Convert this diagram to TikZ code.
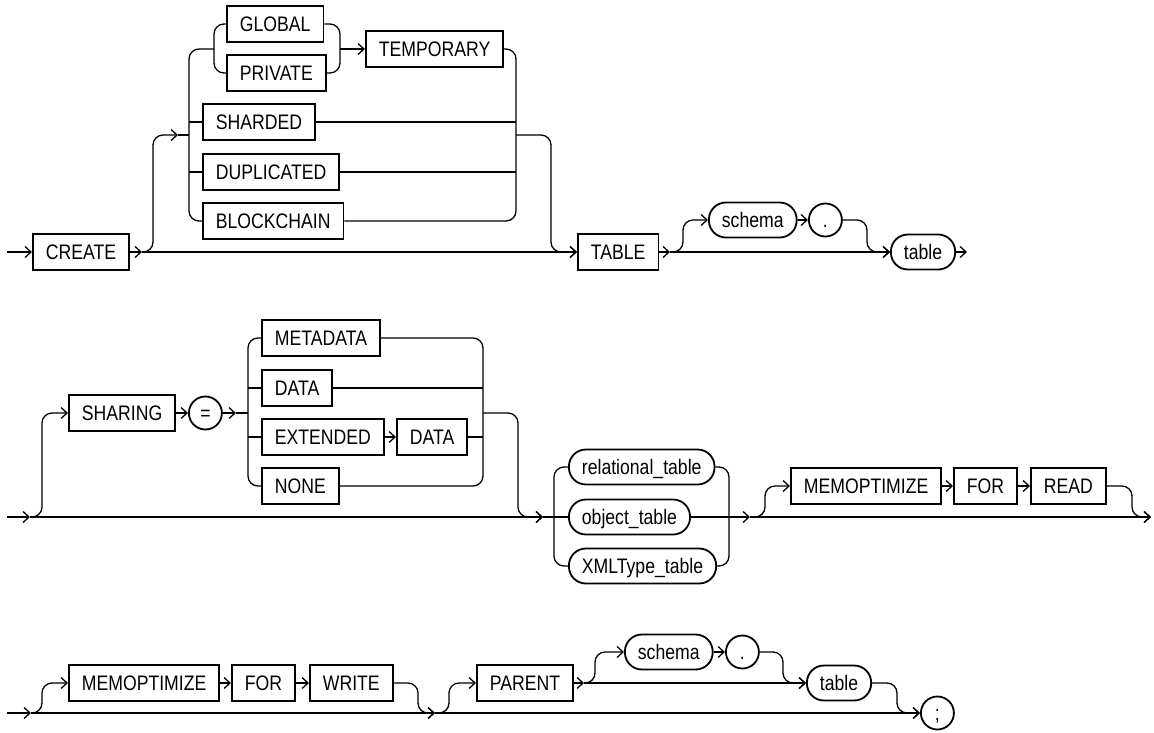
\documentclass[tikz,border=0pt]{standalone}
\usepackage{fontspec}
\setmainfont{Liberation Sans}[FakeStretch=0.84]
\usetikzlibrary{arrows.meta}
\begin{document}
\begin{tikzpicture}[x=1pt,y=-1pt,
  every node/.style={font=\fontsize{21}{25}\selectfont,text height=15pt,text depth=0pt},
  kw/.style={draw,line width=1.8pt,minimum height=36pt,inner xsep=13pt,anchor=west},
  nt/.style={draw,line width=1.8pt,rounded corners=17pt,minimum height=35pt,inner xsep=13pt,anchor=west},
  sym/.style={draw,line width=1.8pt,circle,minimum size=33pt,inner sep=0pt,anchor=west},
  rail/.style={line width=1.3pt,rounded corners=10pt},
  go/.style={rail,-{Straight Barb[length=6pt,width=11pt]}}]
\useasboundingbox (0,0) rectangle (1154,732);
% CREATE ... TABLE line
\coordinate (inA) at (7,252);
\coordinate (c1) at (142,252);
\coordinate (c2) at (670,252);
\coordinate (outA) at (967,252);
\node[kw] (create) at (32,252) {CREATE};
\node[kw] (global) at (226,24) {GLOBAL};
\node[kw] (private) at (226,73) {PRIVATE};
\node[kw] (temp) at (365,49) {TEMPORARY};
\node[kw] (sharded) at (202,122) {SHARDED};
\node[kw] (dup) at (202,172) {DUPLICATED};
\node[kw] (block) at (202,221) {BLOCKCHAIN};
\node[kw] (tbl) at (577,252) {TABLE};
\node[nt] (schemaA) at (708,220) {schema};
\node[sym] (dotA) at (808,220) {.};
\node[nt] (tableA) at (890,252) {table};
\draw[go] (inA) -- (create.west);
\draw[go] (create.east) -- (c1);
\draw[go] (c1) -- (tbl.west);
\draw[go] (c1) -- (153,252) -- (153,135) -- (178,135);
\draw[rail] (178,135) -- (189,135);
\draw[rail] (214,49) -- (189,49) -- (189,221) -- (block.west);
\draw[rail] (189,122) -- (sharded.west);
\draw[rail] (189,172) -- (dup.west);
\draw[rail] (global.west) -- (214,24) -- (214,73) -- (private.west);
\draw[rail] (global.east) -- (340,24) -- (340,73) -- (private.east);
\draw[go] (340,49) -- (temp.west);
\draw[rail] (temp.east) -- (516,49) -- (516,221) -- (block.east);
\draw[rail] (sharded.east) -- (516,122);
\draw[rail] (dup.east) -- (516,172);
\draw[go] (516,135) -- (551,135) -- (551,252) -- (tbl.west);
\draw[go] (tbl.east) -- (c2);
\draw[go] (c2) -- (tableA.west);
\draw[go] (c2) -- (683,252) -- (683,220) -- (schemaA.west);
\draw[go] (schemaA.east) -- (dotA.west);
\draw[go] (dotA.east) -- (867,220) -- (867,252) -- (tableA.west);
\draw[go] (tableA.east) -- (outA);
% SHARING ... MEMOPTIMIZE FOR READ line
\coordinate (inB) at (7,517);
\coordinate (c3) at (30,517);
\coordinate (c4) at (543,517);
\coordinate (c5) at (750,517);
\coordinate (outB) at (1151,517);
\node[kw] (sharing) at (68,413) {SHARING};
\node[sym] (eq) at (188,413) {=};
\node[kw] (meta) at (261,338) {METADATA};
\node[kw] (data) at (261,388) {DATA};
\node[kw] (ext) at (261,437) {EXTENDED};
\node[kw] (dataB) at (396,437) {DATA};
\node[kw] (none) at (261,486) {NONE};
\node[nt] (rel) at (568,467) {relational\_table};
\node[nt] (obj) at (568,517) {object\_table};
\node[nt] (xml) at (568,566) {XMLType\_table};
\node[kw] (memoA) at (790,486) {MEMOPTIMIZE};
\node[kw] (forA) at (953,486) {FOR};
\node[kw] (read) at (1030,486) {READ};
\draw[go] (inB) -- (c3);
\draw[go] (c3) -- (c4);
\draw[go] (c3) -- (42,517) -- (42,413) -- (sharing.west);
\draw[go] (sharing.east) -- (eq.west);
\draw[go] (eq.east) -- (236,413);
\draw[rail] (236,413) -- (248,413);
\draw[rail] (meta.west) -- (248,338) -- (248,486) -- (none.west);
\draw[rail] (248,388) -- (data.west);
\draw[rail] (248,437) -- (ext.west);
\draw[go] (ext.east) -- (dataB.west);
\draw[rail] (meta.east) -- (483,338) -- (483,486) -- (none.east);
\draw[rail] (data.east) -- (483,388);
\draw[rail] (dataB.east) -- (483,437);
\draw[go] (483,413) -- (518,413) -- (518,517) -- (c4);
\draw[rail] (c4) -- (obj.west);
\draw[rail] (rel.west) -- (554,467) -- (554,566) -- (xml.west);
\draw[rail] (rel.east) -- (729,467) -- (729,566) -- (xml.east);
\draw[go] (obj.east) -- (c5);
\draw[go] (c5) -- (outB);
\draw[go] (c5) -- (765,517) -- (765,486) -- (memoA.west);
\draw[go] (memoA.east) -- (forA.west);
\draw[go] (forA.east) -- (read.west);
\draw[go] (read.east) -- (1132,486) -- (1132,517) -- (outB);
% MEMOPTIMIZE FOR WRITE ... PARENT line
\coordinate (inC) at (7,713);
\coordinate (c6) at (31,713);
\coordinate (c7) at (435,713);
\coordinate (c8) at (584,683);
\node[kw] (memoB) at (68,683) {MEMOPTIMIZE};
\node[kw] (forB) at (231,683) {FOR};
\node[kw] (write) at (309,683) {WRITE};
\node[kw] (parent) at (476,683) {PARENT};
\node[nt] (schemaB) at (624,652) {schema};
\node[sym] (dotB) at (725,652) {.};
\node[nt] (tableB) at (806,683) {table};
\node[sym] (semi) at (920,713) {;};
\draw[go] (inC) -- (c6);
\draw[go] (c6) -- (c7);
\draw[go] (c6) -- (42,713) -- (42,683) -- (memoB.west);
\draw[go] (memoB.east) -- (forB.west);
\draw[go] (forB.east) -- (write.west);
\draw[go] (write.east) -- (418,683) -- (418,713) -- (c7);
\draw[go] (c7) -- (semi.west);
\draw[go] (c7) -- (449,713) -- (449,683) -- (parent.west);
\draw[go] (parent.east) -- (c8);
\draw[go] (c8) -- (tableB.west);
\draw[go] (c8) -- (595,683) -- (595,652) -- (schemaB.west);
\draw[go] (schemaB.east) -- (dotB.west);
\draw[go] (dotB.east) -- (783,652) -- (783,683) -- (tableB.west);
\draw[go] (tableB.east) -- (897,683) -- (897,713) -- (semi.west);
\end{tikzpicture}
\end{document}
